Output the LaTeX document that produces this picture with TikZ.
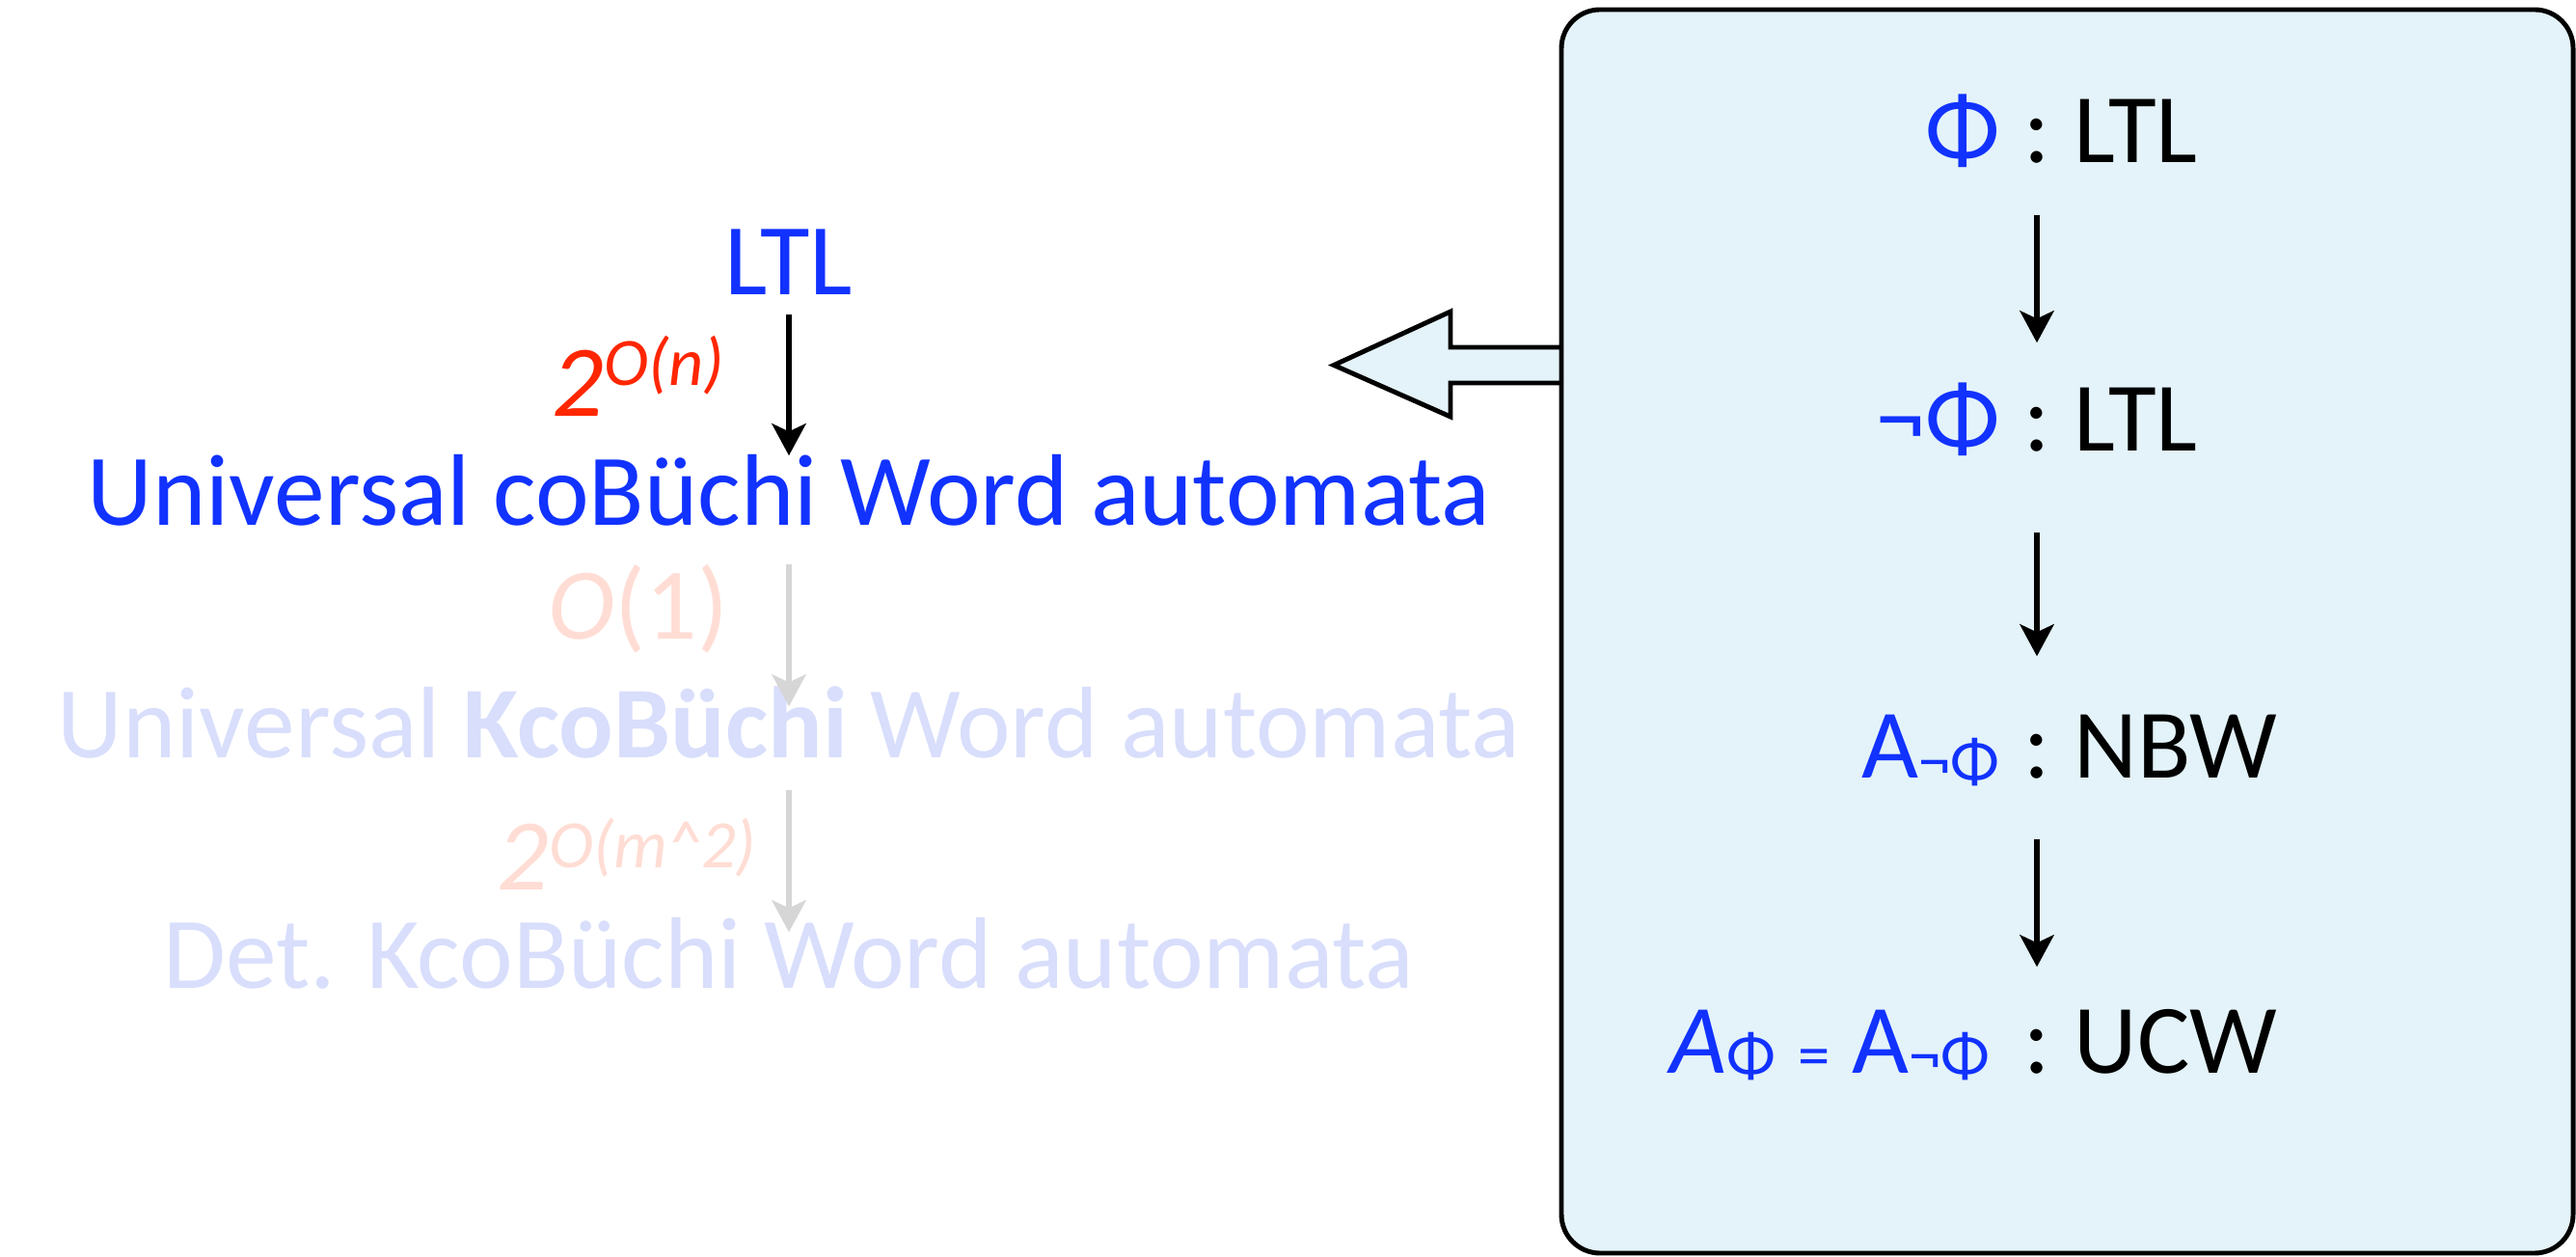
\documentclass[tikz,border=0pt]{standalone}
\usepackage{fontspec}
\setmainfont{Carlito}
\usetikzlibrary{arrows.meta}
\definecolor{keyblue}{RGB}{17,50,255}
\definecolor{keyred}{RGB}{255,38,0}
\definecolor{fadeblue}{RGB}{216,222,251}
\definecolor{fadered}{RGB}{255,221,212}
\definecolor{fadegray}{RGB}{214,214,214}
\definecolor{panelfill}{RGB}{228,243,249}

\newcommand{\stagefont}{\fontsize{30}{34}\selectfont}
\newcommand{\typefont}{\fontsize{29}{33}\selectfont}
\newcommand{\subfont}{\fontsize{19}{22}\selectfont}
\newcommand{\expo}[2]{\raisebox{#1}{\fontsize{20}{22}\selectfont #2}}
\newcommand{\lowered}[1]{\raisebox{-0.05cm}{\subfont #1}}

\begin{document}
\begin{tikzpicture}[
    stage/.style={inner sep=0pt, text height=0.72cm, text depth=0pt, font=\stagefont},
    typing/.style={inner sep=0pt, text height=0.66cm, text depth=0pt, font=\typefont},
    flow/.style={-{Stealth[length=9.4pt,width=10pt,inset=2.3pt]}, line width=1.7pt},
    cost/.style={inner sep=0pt, anchor=base east, font=\stagefont\itshape}]
    \useasboundingbox (0,0) rectangle (26.71,13.02);

    % big arrow out of the panel, then the panel itself
    \filldraw[fill=panelfill, draw=black, line width=1.4pt] (16.19,9.42) -- (15.04,9.42) -- (15.04,9.79) -- (13.83,9.235)
        -- (15.04,8.70) -- (15.04,9.05) -- (16.19,9.05);
    \filldraw[fill=panelfill, draw=black, line width=1.4pt, rounded corners=0.4cm] (16.19,0.03) rectangle (26.68,12.92);

    % left column
    \node[stage, keyblue, anchor=base] (ltl) at (8.18,9.96) {LTL};
    \node[stage, keyblue, anchor=base] (ucw) at (8.18,7.57) {Universal coBüchi Word automata};
    \node[stage, fadeblue, anchor=base] (kucw) at (8.18,5.16) {Universal \textbf{KcoBüchi} Word automata};
    \node[stage, fadeblue, anchor=base] (dkcw) at (8.18,2.77) {Det. KcoBüchi Word automata};

    \draw[flow, shorten <=0.19cm] (ltl) -- (ucw)
        node[cost, keyred, midway, xshift=-0.64cm, yshift=-0.425cm] {2\expo{0.32cm}{O(n)}};
    \draw[flow, fadegray, shorten <=0.39cm, shorten >=-0.19cm] (ucw) -- (kucw)
        node[cost, fadered, midway, xshift=-0.60cm, yshift=-0.335cm] {O\textup{(1)}};
    \draw[flow, fadegray, shorten <=0.32cm, shorten >=-0.14cm] (kucw) -- (dkcw)
        node[cost, fadered, midway, xshift=-0.31cm, yshift=-0.535cm] {2\expo{0.23cm}{O(m\textasciicircum2)}};

    % right column, each line centred on its colon
    \node[typing, anchor=base] (phi) at (21.12,11.33) {\llap{\color{keyblue}Φ\hspace{0.25cm}}:\rlap{\hspace{0.25cm}LTL}};
    \node[typing, anchor=base] (nphi) at (21.12,8.34) {\llap{\color{keyblue}¬Φ\hspace{0.25cm}}:\rlap{\hspace{0.25cm}LTL}};
    \node[typing, anchor=base] (nbw) at (21.12,4.95) {\llap{\color{keyblue}A\lowered{¬Φ}\hspace{0.25cm}}:\rlap{\hspace{0.25cm}NBW}};
    \node[typing, anchor=base] (ucwa) at (21.12,1.90) {\llap{\color{keyblue}\textit{A}\lowered{Φ} \lowered{=} A\lowered{¬Φ}\hspace{0.35cm}}:\rlap{\hspace{0.25cm}UCW}};

    \draw[flow, shorten <=0.53cm, shorten >=0.46cm] (phi) -- (nphi);
    \draw[flow, shorten <=0.83cm, shorten >=0.60cm] (nphi) -- (nbw);
    \draw[flow, shorten <=0.62cm, shorten >=0.43cm] (nbw) -- (ucwa);
\end{tikzpicture}
\end{document}
